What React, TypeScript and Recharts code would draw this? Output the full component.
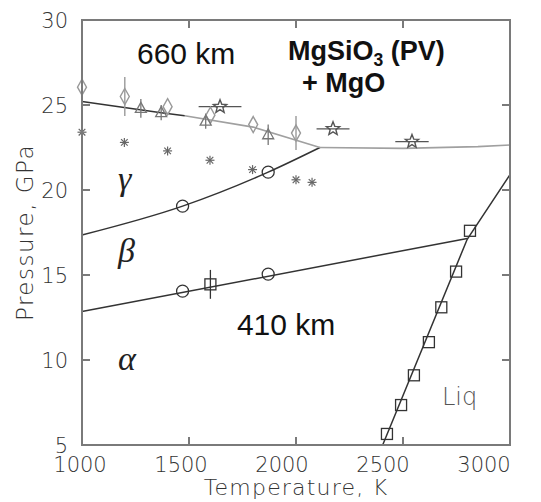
import { ComposedChart, ErrorBar, Line, ReferenceDot, Scatter, XAxis, YAxis } from 'recharts';

// phase boundaries, T in K, P in GPa
const alphaBeta = [{ T: 1000, P: 12.85 }, { T: 2800, P: 17.15 }];
const betaGamma = [
  { T: 1000, P: 17.35 },
  { T: 1470, P: 19.05 },
  { T: 1870, P: 21.05 },
  { T: 2112, P: 22.5 },
];
const gammaPvDark = [
  { T: 1000, P: 25.2 },
  { T: 1370, P: 24.55 },
  { T: 1480, P: 24.37 },
];
const gammaPvGray = [
  { T: 1480, P: 24.37 },
  { T: 1800, P: 23.7 },
  { T: 2112, P: 22.5 },
];
const pvPlateau = [
  { T: 2112, P: 22.5 },
  { T: 2500, P: 22.45 },
  { T: 2850, P: 22.55 },
  { T: 3000, P: 22.65 },
];
const liquidus = [
  { T: 2405, P: 5 },
  { T: 2800, P: 17.1 },
  { T: 3000, P: 20.9 },
];

// experimental points
const circles = [
  { T: 1470, P: 14.05 },
  { T: 1870, P: 15.05 },
  { T: 1470, P: 19.05 },
  { T: 1870, P: 21.05 },
];
const squares = [
  { T: 1600, P: 14.45, eP: 0.85 },
  { T: 2425, P: 5.65, eP: 0 },
  { T: 2491, P: 7.35, eP: 0 },
  { T: 2551, P: 9.1, eP: 0 },
  { T: 2621, P: 11.05, eP: 0 },
  { T: 2679, P: 13.1, eP: 0 },
  { T: 2748, P: 15.2, eP: 0 },
  { T: 2813, P: 17.6, eP: 0 },
];
const diamonds = [
  { T: 1000, P: 26.05, eP: 0 },
  { T: 1200, P: 25.5, eP: 1.15 },
  { T: 1400, P: 24.9, eP: 0 },
  { T: 1600, P: 24.4, eP: 0 },
  { T: 1800, P: 23.85, eP: 0 },
  { T: 2000, P: 23.35, eP: 1.0 },
];
const triangles = [
  { T: 1275, P: 24.8, eP: 0.55 },
  { T: 1370, P: 24.55, eP: 0.45 },
  { T: 1578, P: 24.05, eP: 0.45 },
  { T: 1870, P: 23.25, eP: 0.6 },
];
const stars = [
  { T: 1645, P: 24.9, eT: 100 },
  { T: 2173, P: 23.6, eT: 77 },
  { T: 2542, P: 22.85, eT: 78 },
];
const asterisks = [
  { T: 1000, P: 23.4 },
  { T: 1198, P: 22.8 },
  { T: 1400, P: 22.3 },
  { T: 1598, P: 21.75 },
  { T: 1797, P: 21.2 },
  { T: 2000, P: 20.6 },
  { T: 2075, P: 20.45 },
];

const tempTicks = [1000, 1500, 2000, 2500, 3000];
const pressTicks = [5, 10, 15, 20, 25, 30];
const tMin = 1000;
const tMax = 3000;
const pMin = 5;
const pMax = 30;

// chart geometry; the frame overlay below is laid out from the same numbers
const W = 541;
const H = 502;
const margin = { top: 20, right: 31, bottom: 0, left: 0 };
const yAxisW = 82;
const xAxisH = 57;
const plotX = margin.left + yAxisW;
const plotY = margin.top;
const plotW = W - margin.right - plotX;
const plotH = H - xAxisH - plotY;
const tickLen = 7;

const frame = '#7a7a7a';
const ink = '#333';
const tickFont = { fontFamily: 'DejaVu Sans', fontSize: 21, fontWeight: 300, fill: '#333' };

const circleShape = ({ cx, cy }: any) => (
  <circle cx={cx} cy={cy} r={6} fill="none" stroke={ink} strokeWidth={1.3} />
);
const squareShape = ({ cx, cy }: any) => (
  <rect x={cx - 5.5} y={cy - 5.5} width={11} height={11} fill="none" stroke={ink} strokeWidth={1.3} />
);
const diamondShape = ({ cx, cy }: any) => (
  <path
    d={`M${cx},${cy - 8}L${cx + 4.5},${cy}L${cx},${cy + 8}L${cx - 4.5},${cy}Z`}
    fill="none"
    stroke="#999"
    strokeWidth={1.4}
  />
);
const triangleShape = ({ cx, cy }: any) => (
  <path
    d={`M${cx},${cy - 6}L${cx + 5.5},${cy + 4}L${cx - 5.5},${cy + 4}Z`}
    fill="none"
    stroke="#777"
    strokeWidth={1.3}
  />
);
const starShape = ({ cx, cy }: any) => {
  const pts = [];
  for (let i = 0; i < 10; i++) {
    const r = i % 2 === 0 ? 7 : 3;
    const a = -Math.PI / 2 + (i * Math.PI) / 5;
    pts.push(`${cx + r * Math.cos(a)},${cy + r * Math.sin(a)}`);
  }
  return <polygon points={pts.join(' ')} fill="none" stroke="#555" strokeWidth={1.4} />;
};
const asteriskShape = ({ cx, cy }: any) => (
  <g stroke="#666" strokeWidth={1.2}>
    <line x1={cx - 4.5} y1={cy} x2={cx + 4.5} y2={cy} />
    <line x1={cx} y1={cy - 4.5} x2={cx} y2={cy + 4.5} />
    <line x1={cx - 3.3} y1={cy - 3.3} x2={cx + 3.3} y2={cy + 3.3} />
    <line x1={cx - 3.3} y1={cy + 3.3} x2={cx + 3.3} y2={cy - 3.3} />
  </g>
);

const BottomTick = ({ x, y, payload, index }: any) => (
  <text x={x - 2 - index * 6} y={y + 27} textAnchor="middle" {...tickFont}>
    {payload.value}
  </text>
);
const LeftTick = ({ x, y, payload }: any) => (
  <text x={x - 14} y={y + 8} textAnchor="end" {...tickFont}>
    {payload.value}
  </text>
);

// box with inward ticks on all four sides, as an overlay on the plot area
function Frame() {
  const tx = (t: number) => plotX + ((t - tMin) / (tMax - tMin)) * plotW;
  const py = (p: number) => plotY + ((pMax - p) / (pMax - pMin)) * plotH;
  const mark = (left: number, top: number, width: number, height: number, key: string) => (
    <div key={key} style={{ position: 'absolute', left, top, width, height, background: frame }} />
  );
  return (
    <div style={{ position: 'absolute', left: 0, top: 0, width: W, height: H, pointerEvents: 'none' }}>
      <div
        style={{
          position: 'absolute',
          left: plotX - 1,
          top: plotY - 1,
          width: plotW + 2,
          height: plotH + 2,
          border: `2px solid ${frame}`,
          boxSizing: 'border-box',
        }}
      />
      {tempTicks.slice(1, -1).map((t) => [
        mark(Math.round(tx(t)) - 1, plotY + 1, 2, tickLen, `b${t}`),
        mark(Math.round(tx(t)) - 1, plotY + plotH - 1 - tickLen, 2, tickLen, `t${t}`),
      ])}
      {pressTicks.slice(1, -1).map((p) => [
        mark(plotX + 1, Math.round(py(p)) - 1, tickLen, 2, `l${p}`),
        mark(plotX + plotW - 1 - tickLen, Math.round(py(p)) - 1, tickLen, 2, `r${p}`),
      ])}
    </div>
  );
}

// text placed at a data position, baseline-left anchored
const note = (content: React.ReactNode, style: React.CSSProperties) => (props: any) => (
  <text x={props.viewBox.x} y={props.viewBox.y} style={style}>
    {content}
  </text>
);

const kmFont = { fontFamily: 'Liberation Sans', fontSize: 30, fill: '#111' };
const boldFont = { fontFamily: 'Liberation Sans', fontSize: 27, fontWeight: 700, fill: '#111' };
const greekFont = { fontFamily: 'Liberation Serif', fontSize: 34, fontStyle: 'italic', fill: '#222' };
const axisTitle = { fontFamily: 'DejaVu Sans', fontWeight: 300, fill: '#333' };

const noDot = { r: 0, fill: 'none', stroke: 'none' };

export default function App() {
  return (
    <div style={{ position: 'absolute', left: 0, top: 0, width: W, height: H, background: '#fff' }}>
      <ComposedChart width={W} height={H} margin={margin}>
        <XAxis
          dataKey="T"
          type="number"
          domain={[tMin, tMax]}
          ticks={tempTicks}
          height={xAxisH}
          axisLine={false}
          tickLine={false}
          tickSize={0}
          tickMargin={0}
          tick={<BottomTick />}
          label={{
            value: 'Temperature, K',
            position: 'insideBottom',
            offset: 7,
            style: { ...axisTitle, fontSize: 22, letterSpacing: 1.2 },
          }}
        />
        <YAxis
          dataKey="P"
          type="number"
          domain={[pMin, pMax]}
          ticks={pressTicks}
          width={yAxisW}
          axisLine={false}
          tickLine={false}
          tickSize={0}
          tickMargin={0}
          tick={<LeftTick />}
          label={{
            value: 'Pressure, GPa',
            angle: -90,
            position: 'insideLeft',
            offset: 25,
            style: { ...axisTitle, textAnchor: 'middle', fontSize: 23, letterSpacing: 1.5 },
          }}
        />

        <Line data={alphaBeta} dataKey="P" type="linear" stroke={ink} strokeWidth={1.5} dot={false} isAnimationActive={false} />
        <Line data={betaGamma} dataKey="P" type="monotone" stroke={ink} strokeWidth={1.5} dot={false} isAnimationActive={false} />
        <Line data={gammaPvGray} dataKey="P" type="linear" stroke="#a0a0a0" strokeWidth={1.6} dot={false} isAnimationActive={false} />
        <Line data={pvPlateau} dataKey="P" type="linear" stroke="#a0a0a0" strokeWidth={1.6} dot={false} isAnimationActive={false} />
        <Line data={gammaPvDark} dataKey="P" type="linear" stroke={ink} strokeWidth={1.5} dot={false} isAnimationActive={false} />
        <Line data={liquidus} dataKey="P" type="linear" stroke={ink} strokeWidth={1.5} dot={false} isAnimationActive={false} />

        <Scatter data={asterisks} dataKey="P" shape={asteriskShape} isAnimationActive={false} />
        <Scatter data={diamonds} dataKey="P" shape={diamondShape} isAnimationActive={false}>
          <ErrorBar dataKey="eP" direction="y" width={0} stroke="#999" strokeWidth={1.4} />
        </Scatter>
        <Scatter data={triangles} dataKey="P" shape={triangleShape} isAnimationActive={false}>
          <ErrorBar dataKey="eP" direction="y" width={0} stroke="#777" strokeWidth={1.3} />
        </Scatter>
        <Scatter data={stars} dataKey="P" shape={starShape} isAnimationActive={false}>
          <ErrorBar dataKey="eT" direction="x" width={0} stroke="#555" strokeWidth={1.3} />
        </Scatter>
        <Scatter data={circles} dataKey="P" shape={circleShape} isAnimationActive={false} />
        <Scatter data={squares} dataKey="P" shape={squareShape} isAnimationActive={false}>
          <ErrorBar dataKey="eP" direction="y" width={0} stroke={ink} strokeWidth={1.3} />
        </Scatter>

        <ReferenceDot x={1257} y={27.4} {...noDot} label={note('660 km', kmFont)} />
        <ReferenceDot x={1724} y={11.5} {...noDot} label={note('410 km', kmFont)} />
        <ReferenceDot
          x={1963}
          y={27.65}
          {...noDot}
          label={note(
            <>
              MgSiO<tspan fontSize="0.65em" dy={6}>3</tspan>
              <tspan dy={-6}> (PV)</tspan>
            </>,
            boldFont,
          )}
        />
        <ReferenceDot x={2028} y={25.76} {...noDot} label={note('+ MgO', boldFont)} />
        <ReferenceDot x={1168} y={20.0} {...noDot} label={note('γ', greekFont)} />
        <ReferenceDot x={1168} y={15.76} {...noDot} label={note('β', greekFont)} />
        <ReferenceDot x={1168} y={9.4} {...noDot} label={note('α', greekFont)} />
        <ReferenceDot
          x={2682}
          y={7.35}
          {...noDot}
          label={note('Liq', { fontFamily: 'DejaVu Sans', fontSize: 24, fontWeight: 300, fill: '#555' })}
        />
      </ComposedChart>
      <Frame />
    </div>
  );
}
